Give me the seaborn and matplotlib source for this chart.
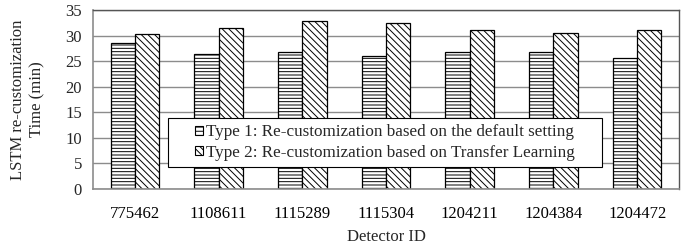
import matplotlib
matplotlib.use("Agg")
import matplotlib.pyplot as plt
import seaborn as sns
import pandas as pd
import numpy as np
from matplotlib.ticker import FixedLocator
from matplotlib.patches import Rectangle

detectors = ["775462", "1108611", "1115289", "1115304", "1204211", "1204384", "1204472"]
type1 = [28.6, 26.3, 26.7, 26.1, 26.7, 26.8, 25.6]
type2 = [30.4, 31.5, 32.9, 32.5, 31.0, 30.5, 31.0]
series = ["Type 1: Re-customization based on the default setting",
          "Type 2: Re-customization based on Transfer Learning"]
yticks = [0, 5, 10, 15, 20, 25, 30, 35]

df = pd.DataFrame({
    "Detector ID": detectors * 2,
    "Time": type1 + type2,
    "Type": [series[0]] * len(detectors) + [series[1]] * len(detectors),
})

sns.set_theme(style="white")
plt.rcParams['font.family'] = ['Liberation Serif', 'DejaVu Serif']
plt.rcParams['hatch.linewidth'] = 0.7

fig = plt.figure(figsize=(6.9, 2.48), dpi=100)
ax = fig.add_axes([93/690, 59/248, 586/690, 179/248])

sns.barplot(data=df, x="Detector ID", y="Time", hue="Type", ax=ax,
            width=0.58, palette=["white", "white"], edgecolor="black",
            linewidth=0.9, saturation=1, legend=True)

hatches = ["-----", "\\\\\\\\\\"]
for cont, h in zip(ax.containers, hatches):
    for p in cont:
        p.set_hatch(h)
        p.set_facecolor("white")
        p.set_edgecolor("black")

ax.set_ylim(0, 35)
ax.set_xlim(-0.5, len(detectors) - 0.5)
ax.set_yticks(yticks)
ax.yaxis.grid(True, color="#8c8c8c", linewidth=1.0)
ax.set_axisbelow(True)

ax.xaxis.set_minor_locator(FixedLocator(np.arange(-0.5, len(detectors), 1.0)))
ax.tick_params(axis="x", which="major", length=0, labelsize=12, pad=12, colors="black")
ax.tick_params(axis="x", which="minor", length=4, width=1, color="#8c8c8c", direction="out")
ax.tick_params(axis="y", length=4, width=1, color="#8c8c8c", direction="out", labelsize=12, pad=4)

for s in ["left", "bottom"]:
    ax.spines[s].set_color("#8c8c8c")
    ax.spines[s].set_linewidth(1.2)
for s in ["top", "right"]:
    ax.spines[s].set_color("#555555")
    ax.spines[s].set_linewidth(1.0)

ax.set_xlabel("Detector ID", fontsize=12, labelpad=5)
ax.set_ylabel("LSTM re-customization\nTime (min)", fontsize=12, labelpad=14, linespacing=1.3)

# legend frame
box = Rectangle((0.128, 0.123), 0.741, 0.274, transform=ax.transAxes,
                facecolor="white", edgecolor="black", linewidth=0.8, zorder=4)
ax.add_patch(box)

leg = ax.legend(loc="center", bbox_to_anchor=(0.498, 0.26), fontsize=12.3,
                frameon=False, handlelength=0.45, handleheight=0.45, handletextpad=0.15,
                borderpad=0.2, labelspacing=0.25)
leg.set_zorder(5)
for hnd, h in zip(leg.legend_handles, ["----", "\\\\\\\\\\"]):
    hnd.set_hatch(h)
    hnd.set_facecolor("white")
    hnd.set_edgecolor("black")
    hnd.set_linewidth(0.8)

fig.savefig("out.png", dpi=100)
